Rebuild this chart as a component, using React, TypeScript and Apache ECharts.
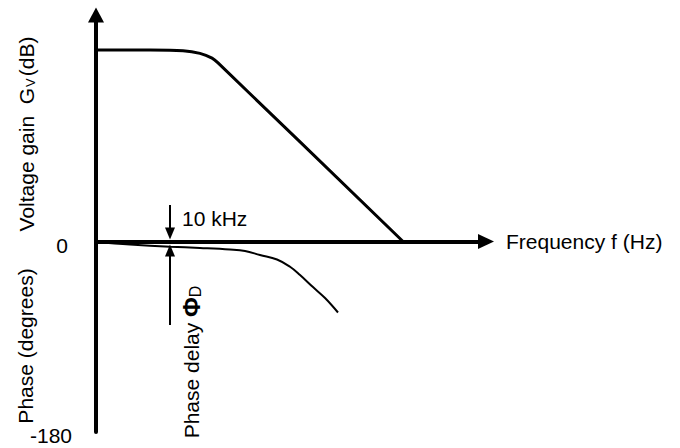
import React, { useEffect, useRef } from "react";
import * as echarts from "echarts";

// x values are log10(frequency / Hz)
const gainFreq = [3.0, 3.73, 4.176, 4.405, 4.568, 4.649, 7.149];
const gainDb = [40.2, 40.2, 40.06, 39.5, 38.5, 37.5, 0];

const phaseFreq = [3.0, 3.459, 4.0, 4.405, 4.811, 5.014, 5.216, 5.446, 5.622, 5.757, 5.932, 6.095, 6.27];
const phaseDeg = [-0.5, -2.8, -4.9, -6.1, -7.6, -9.0, -12.8, -17.0, -23.9, -31.7, -43.1, -53.4, -67.1];

const markerFreq = 4; // 10 kHz
const markerDown = [34.5, 7.6];
const markerUp = [-78.9, -8.5];

const phaseTicks = [-180, 0];
const phaseRange = [-180, 214];
const gainRange = [-40, 47.56];
const freqRange = [3, 8.27];

const FONT = "'Liberation Sans', Arial, Helvetica, sans-serif";

export default function App() {
  const ref = useRef<HTMLDivElement>(null);
  useEffect(() => {
    if (!ref.current) return;
    const chart = echarts.init(ref.current, undefined, { renderer: "svg" });
    chart.setOption({
      animation: false,
      backgroundColor: "#ffffff",
      textStyle: { fontFamily: FONT, color: "#000" },
      grid: { left: 96, right: 194, top: 15, bottom: 16, containLabel: false },
      xAxis: {
        type: "value",
        min: freqRange[0],
        max: freqRange[1],
        axisLine: {
          show: true,
          onZero: true,
          onZeroAxisIndex: 0,
          symbol: ["none", "triangle"],
          symbolSize: [15, 16],
          lineStyle: { color: "#000", width: 4 },
        },
        axisTick: { show: false },
        axisLabel: { show: false },
        splitLine: { show: false },
        name: "Frequency f (Hz)",
        nameLocation: "end",
        nameGap: 20,
        nameTextStyle: { fontSize: 21, color: "#000", fontFamily: FONT, padding: [9, 0, 0, 0] },
      },
      yAxis: [
        {
          type: "value",
          min: phaseRange[0],
          max: phaseRange[1],
          interval: 180,
          axisLine: {
            show: true,
            onZero: false,
            symbol: ["none", "triangle"],
            symbolSize: [16, 15],
            lineStyle: { color: "#000", width: 4 },
          },
          axisTick: { show: false },
          splitLine: { show: false },
          axisLabel: {
            show: true,
            margin: 24,
            showMaxLabel: false,
            formatter: (v: number) =>
              v === phaseTicks[1] ? "{a|" + v + "}" : v === phaseTicks[0] ? "{b|" + v + "}" : "",
            rich: {
              a: { fontSize: 21, color: "#000", fontFamily: FONT, padding: [8, 4, 0, 0] },
              b: { fontSize: 21, color: "#000", fontFamily: FONT, padding: [6, 0, 0, 0] },
            },
          },
        },
        {
          type: "value",
          show: false,
          min: gainRange[0],
          max: gainRange[1],
          splitLine: { show: false },
        },
      ],
      series: [
        {
          type: "line",
          name: "Gain",
          yAxisIndex: 1,
          data: gainFreq.map((f, i) => [f, gainDb[i]]),
          showSymbol: false,
          smooth: 0.3,
          lineStyle: { color: "#000", width: 3 },
          silent: true,
        },
        {
          type: "line",
          name: "Phase",
          yAxisIndex: 0,
          data: phaseFreq.map((f, i) => [f, phaseDeg[i]]),
          showSymbol: false,
          smooth: 0.4,
          lineStyle: { color: "#000", width: 2 },
          silent: true,
          markLine: {
            silent: true,
            symbol: ["none", "triangle"],
            symbolSize: [10, 12],
            lineStyle: { color: "#000", width: 2, type: "solid" },
            itemStyle: { color: "#000" },
            label: { show: false },
            emphasis: { disabled: true },
            data: [
              [{ coord: [markerFreq, markerDown[0]] }, { coord: [markerFreq, markerDown[1]] }],
              [{ coord: [markerFreq, markerUp[0]] }, { coord: [markerFreq, markerUp[1]] }],
            ],
          },
        },
      ],
      graphic: [
        {
          type: "text",
          x: 182,
          y: 218,
          style: { text: "10 kHz", font: `21px ${FONT}`, fill: "#000", align: "left", verticalAlign: "middle" },
        },
        {
          type: "text",
          x: 26,
          y: 134,
          rotation: Math.PI / 2,
          style: {
            text: "Voltage gain  G{s|V}(dB)",
            font: `21px ${FONT}`,
            fill: "#000",
            align: "center",
            verticalAlign: "middle",
            rich: {
              s: { fontSize: 13, fontFamily: FONT, fill: "#000", verticalAlign: "bottom", padding: [0, 2, 0, 1] },
            },
          },
        },
        {
          type: "text",
          x: 25,
          y: 346,
          rotation: Math.PI / 2,
          style: { text: "Phase (degrees)", font: `21px ${FONT}`, fill: "#000", align: "center", verticalAlign: "middle" },
        },
        {
          type: "text",
          x: 191,
          y: 362,
          rotation: Math.PI / 2,
          style: {
            text: "Phase delay {p|Φ}{d|D}",
            font: `21px ${FONT}`,
            fill: "#000",
            align: "center",
            verticalAlign: "middle",
            rich: {
              p: { fontSize: 24, fontWeight: "bold", fontFamily: FONT, fill: "#000" },
              d: { fontSize: 16, fontFamily: FONT, fill: "#000", verticalAlign: "bottom" },
            },
          },
        },
      ],
    });
    return () => chart.dispose();
  }, []);
  return <div ref={ref} style={{ position: "fixed", left: 0, top: 0, width: 680, height: 448 }} />;
}
